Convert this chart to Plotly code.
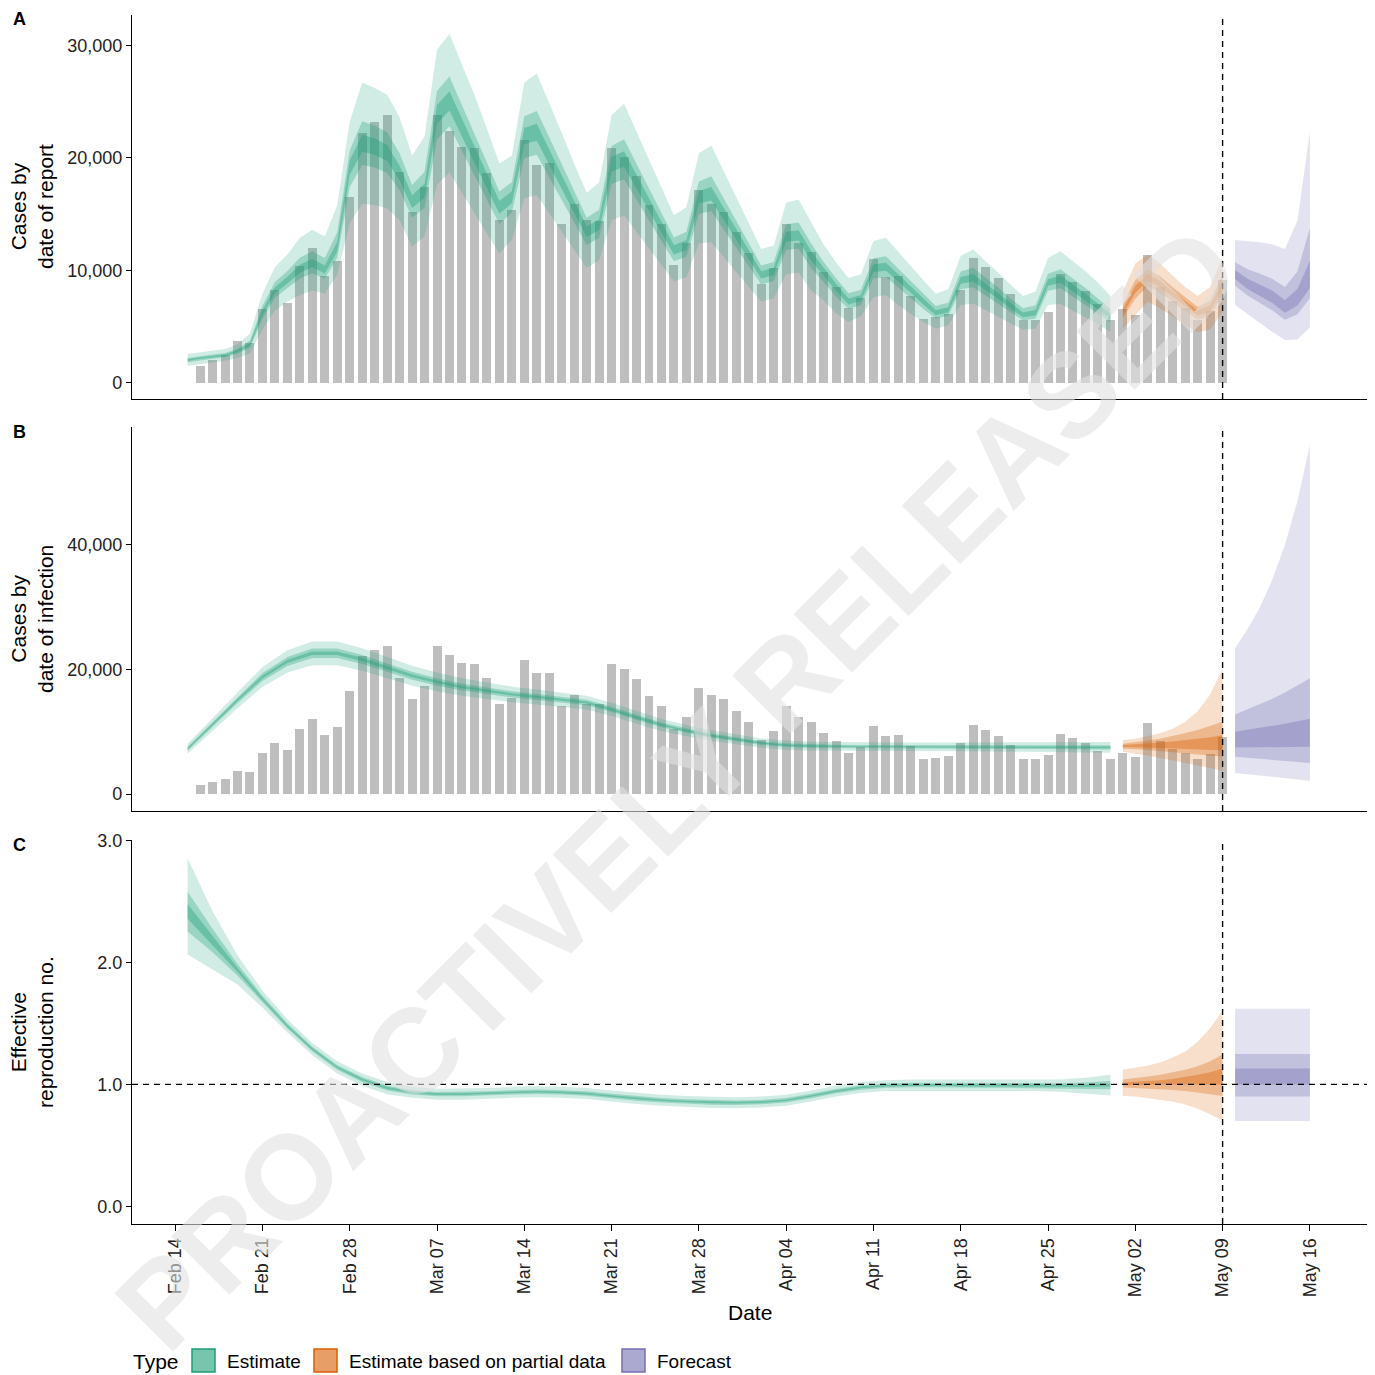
import pandas as pd
import plotly.graph_objects as go

# ---------------- data (case counts in thousands) ----------------
bar_dates = pd.date_range("2021-02-16", "2021-05-09", freq="D")
reported_k = [1.5, 2.0, 2.45, 3.7, 3.55, 6.55, 8.2, 7.1, 10.4, 12.0,
              9.5, 10.8, 16.5, 22.2, 23.2, 23.8, 18.7, 15.2, 17.4, 23.8,
              22.4, 21.0, 20.9, 18.65, 14.45, 15.4, 21.6, 19.4, 19.5, 14.1,
              15.9, 14.5, 14.4, 20.9, 20.1, 18.4, 15.8, 14.1, 10.5, 12.4,
              17.1, 15.9, 15.2, 13.4, 11.55, 8.75, 10.2, 14.1, 12.4, 11.6,
              9.85, 8.47, 6.6, 7.5, 11.0, 9.4, 9.5, 7.7, 5.65, 5.86,
              6.1, 8.2, 11.1, 10.25, 9.3, 7.85, 5.57, 5.57, 6.3, 9.7,
              8.97, 8.17, 7.0, 5.57, 6.55, 6.0, 11.4, 8.5, 7.3, 6.6,
              5.57, 6.37, 9.1]

est_dates = pd.date_range("2021-02-15", "2021-04-30", freq="D")
est_dates_2d = pd.date_range("2021-02-15", "2021-04-30", freq="2D")
partial_dates = pd.date_range("2021-05-01", "2021-05-09", freq="D")
forecast_dates = pd.date_range("2021-05-10", "2021-05-16", freq="D")
tick_dates = pd.date_range("2021-02-14", "2021-05-16", freq="7D")

# Panel A: cases by date of report (estimate, daily)
rep_est_lo90 = [1.5, 1.65, 1.8, 1.95, 2.2, 2.6, 4.7, 6.4, 7.2, 7.8, 8.2, 7.9, 9.6, 14.2, 15.9, 15.8, 15.5, 14.45, 12.1, 13.0,
                17.6, 18.7, 16.9, 15.1, 13.3, 11.5, 12.7, 16.4, 16.7, 15.1, 13.5, 11.8, 10.2, 10.9, 14.45, 14.9, 13.4, 12.0, 10.5, 9.0,
                9.4, 12.4, 12.5, 11.2, 9.9, 8.5, 7.2, 7.5, 9.65, 9.8, 8.2, 7.3, 6.2, 5.4, 5.9, 7.6, 7.8, 6.9, 6.1, 5.4,
                4.8, 5.1, 6.9, 7.05, 6.5, 5.9, 5.3, 4.7, 4.8, 6.9, 7.0, 6.4, 5.8, 5.2, 4.5]
rep_est_hi90 = [2.55, 2.7, 2.85, 3.0, 3.4, 4.4, 7.9, 10.3, 11.4, 12.9, 13.6, 13.0, 15.8, 23.2, 26.7, 26.2, 25.6, 23.6, 20.2, 21.9,
                29.6, 31.0, 28.3, 25.6, 22.6, 19.5, 20.2, 26.7, 27.5, 24.9, 22.2, 19.5, 16.9, 17.8, 23.8, 24.8, 22.3, 19.8, 17.4, 14.9,
                15.6, 20.4, 21.1, 18.8, 16.5, 14.2, 11.9, 12.2, 16.0, 16.3, 14.3, 12.3, 10.7, 9.3, 9.65, 12.6, 12.9, 11.6, 10.3, 9.1,
                7.9, 8.3, 11.3, 11.85, 10.8, 9.8, 8.7, 7.7, 8.1, 11.1, 11.7, 10.8, 9.9, 8.9, 7.7]
rep_est_lo50 = [1.82, 2.0, 2.12, 2.27, 2.58, 3.11, 5.66, 7.55, 8.42, 9.27, 9.74, 9.24, 11.14, 17.4, 19.36, 19.13, 18.64, 17.11, 14.66, 15.56,
                21.63, 22.8, 20.61, 18.43, 16.24, 14.12, 15.13, 19.98, 20.28, 18.3, 16.32, 14.23, 12.25, 12.88, 17.68, 18.1, 16.28, 14.5, 12.61, 10.79,
                11.19, 15.02, 15.25, 13.63, 12.01, 10.36, 8.74, 9.04, 11.79, 11.91, 10.18, 8.96, 7.67, 6.55, 6.92, 9.26, 9.4, 8.44, 7.51, 6.55,
                5.7, 5.96, 8.31, 8.49, 7.78, 7.05, 6.26, 5.53, 5.7, 8.18, 8.41, 7.68, 6.95, 6.16, 5.4]
rep_est_hi50 = [2.2, 2.38, 2.5, 2.65, 3.02, 3.76, 6.81, 8.96, 9.93, 11.11, 11.68, 11.08, 13.37, 20.64, 23.24, 22.87, 22.27, 20.4, 17.58, 18.76,
                25.95, 27.22, 24.72, 22.21, 19.59, 17.0, 17.83, 23.69, 24.17, 21.83, 19.45, 17.0, 14.66, 15.37, 21.05, 21.66, 19.48, 17.3, 15.1, 12.92,
                13.42, 17.9, 18.35, 16.37, 14.39, 12.41, 10.43, 10.73, 14.08, 14.25, 12.38, 10.76, 9.29, 7.96, 8.27, 11.06, 11.24, 10.13, 9.02, 7.88,
                6.81, 7.12, 9.89, 10.22, 9.33, 8.46, 7.48, 6.61, 6.88, 9.69, 10.1, 9.26, 8.43, 7.49, 6.55]
rep_est_lo20 = [1.93, 2.12, 2.23, 2.38, 2.72, 3.29, 5.99, 7.95, 8.83, 9.78, 10.26, 9.71, 11.66, 18.5, 20.54, 20.27, 19.71, 18.02, 15.54, 16.44,
                23.02, 24.2, 21.89, 19.57, 17.26, 15.03, 15.97, 21.22, 21.52, 19.4, 17.28, 15.07, 12.95, 13.57, 18.79, 19.2, 17.27, 15.35, 13.34, 11.41,
                11.81, 15.93, 16.2, 14.47, 12.74, 10.99, 9.26, 9.56, 12.53, 12.64, 10.87, 9.54, 8.18, 6.95, 7.28, 9.84, 9.95, 8.96, 7.99, 6.95,
                6.0, 6.26, 8.79, 8.99, 8.22, 7.45, 6.59, 5.82, 6.0, 8.62, 8.89, 8.12, 7.35, 6.49, 5.7]
rep_est_hi20 = [2.08, 2.27, 2.38, 2.53, 2.88, 3.54, 6.44, 8.49, 9.42, 10.49, 11.02, 10.42, 12.53, 19.76, 22.06, 21.73, 21.13, 19.3, 16.67, 17.69,
                24.7, 25.93, 23.48, 21.04, 18.56, 16.15, 17.02, 22.66, 23.03, 20.77, 18.5, 16.15, 13.89, 14.53, 20.1, 20.59, 18.52, 16.45, 14.3, 12.23,
                12.68, 17.05, 17.4, 15.53, 13.66, 11.79, 9.92, 10.22, 13.42, 13.55, 11.72, 10.24, 8.81, 7.49, 7.8, 10.54, 10.66, 9.62, 8.58, 7.47,
                6.44, 6.71, 9.41, 9.66, 8.82, 7.99, 7.07, 6.24, 6.47, 9.21, 9.55, 8.74, 7.92, 7.01, 6.15]
rep_par_lo90 = [4.8, 6.0, 7.2, 6.6, 5.9, 5.1, 4.5, 4.7, 6.3]
rep_par_hi90 = [8.1, 10.6, 11.4, 10.6, 9.5, 8.5, 7.7, 8.5, 11.2]
rep_par_lo50 = [5.76, 7.47, 8.61, 8.01, 7.18, 6.35, 5.59, 5.92, 7.84]
rep_par_hi50 = [6.95, 9.13, 10.12, 9.45, 8.48, 7.57, 6.74, 7.28, 9.6]
rep_par_lo20 = [6.09, 7.98, 9.09, 8.49, 7.62, 6.78, 5.96, 6.33, 8.36]
rep_par_hi20 = [6.55, 8.62, 9.68, 9.05, 8.12, 7.25, 6.41, 6.87, 9.05]
rep_fc_lo90 = [6.9, 6.1, 5.3, 4.5, 3.8, 3.85, 4.9]
rep_fc_hi90 = [12.7, 12.6, 12.5, 12.3, 11.9, 14.4, 22.3]
rep_fc_lo50 = [8.63, 7.76, 7.09, 6.42, 5.59, 6.09, 7.52]
rep_fc_hi50 = [10.72, 10.1, 9.68, 9.23, 8.51, 9.89, 13.79]
rep_fc_lo20 = [9.22, 8.34, 7.71, 7.08, 6.21, 6.86, 8.43]
rep_fc_hi20 = [10.03, 9.25, 8.72, 8.17, 7.34, 8.34, 10.86]

# Panel B: cases by date of infection (estimate every 2 days)
inf_est_lo90 = [6.5, 10.2, 13.8, 17.2, 19.5, 20.7, 20.7, 19.8, 18.6, 17.4, 16.5, 15.8, 15.3, 14.75, 14.4, 14.05, 13.6, 12.55, 11.3,
                10.15, 9.3, 8.55, 8.0, 7.45, 7.1, 7.0, 6.95, 6.9, 6.9, 6.9, 6.9, 6.9, 6.9, 6.85, 6.85, 6.75, 6.7, 6.65]
inf_est_hi90 = [8.1, 12.2, 16.4, 20.4, 23.1, 24.5, 24.5, 23.4, 22.0, 20.6, 19.5, 18.6, 17.9, 17.25, 16.8, 16.35, 15.8, 14.65, 13.3,
                12.05, 11.1, 10.25, 9.6, 8.95, 8.6, 8.4, 8.35, 8.3, 8.3, 8.3, 8.3, 8.3, 8.3, 8.25, 8.25, 8.25, 8.3, 8.35]
inf_est_lo50 = [6.98, 10.8, 14.58, 18.16, 20.58, 21.84, 21.84, 20.88, 19.62, 18.36, 17.4, 16.64, 16.08, 15.5, 15.12, 14.74, 14.26, 13.18, 11.9,
                10.72, 9.84, 9.06, 8.48, 7.9, 7.55, 7.42, 7.37, 7.32, 7.32, 7.32, 7.32, 7.32, 7.32, 7.27, 7.27, 7.2, 7.18, 7.16]
inf_est_hi50 = [7.62, 11.6, 15.62, 19.44, 22.02, 23.36, 23.36, 22.32, 20.98, 19.64, 18.6, 17.76, 17.12, 16.5, 16.08, 15.66, 15.14, 14.02, 12.7,
                11.48, 10.56, 9.74, 9.12, 8.5, 8.15, 7.98, 7.93, 7.88, 7.88, 7.88, 7.88, 7.88, 7.88, 7.83, 7.83, 7.8, 7.82, 7.84]
inf_est_lo20 = [7.18, 11.05, 14.9, 18.56, 21.03, 22.32, 22.32, 21.33, 20.05, 18.76, 17.78, 16.99, 16.4, 15.81, 15.42, 15.03, 14.54, 13.44, 12.15,
                10.96, 10.07, 9.27, 8.68, 8.09, 7.74, 7.6, 7.55, 7.5, 7.5, 7.5, 7.5, 7.5, 7.5, 7.45, 7.45, 7.39, 7.38, 7.37]
inf_est_hi20 = [7.42, 11.35, 15.3, 19.04, 21.57, 22.88, 22.88, 21.87, 20.55, 19.24, 18.22, 17.41, 16.8, 16.19, 15.78, 15.37, 14.87, 13.76, 12.45,
                11.24, 10.34, 9.53, 8.92, 8.31, 7.96, 7.8, 7.75, 7.7, 7.7, 7.7, 7.7, 7.7, 7.7, 7.65, 7.65, 7.61, 7.62, 7.63]
inf_par_lo90 = [6.8, 6.5, 6.2, 5.9, 5.5, 5.1, 4.6, 4.2, 3.75]
inf_par_hi90 = [8.7, 8.9, 9.3, 9.8, 10.5, 11.6, 13.3, 16.0, 20.2]
inf_par_lo50 = [7.3, 7.2, 7.1, 6.95, 6.8, 6.6, 6.4, 6.2, 6.0]
inf_par_hi50 = [8.1, 8.3, 8.6, 8.9, 9.3, 9.8, 10.3, 10.9, 11.6]
inf_par_lo20 = [7.55, 7.5, 7.45, 7.4, 7.35, 7.3, 7.2, 7.1, 7.05]
inf_par_hi20 = [7.9, 8.0, 8.15, 8.3, 8.45, 8.65, 8.9, 9.15, 9.45]
inf_fc_lo90 = [3.4, 3.2, 3.0, 2.8, 2.6, 2.35, 2.13]
inf_fc_hi90 = [23.4, 26.5, 30.0, 34.5, 40.0, 47.0, 56.0]
inf_fc_lo50 = [6.0, 5.85, 5.7, 5.5, 5.35, 5.15, 5.0]
inf_fc_hi50 = [12.8, 13.6, 14.4, 15.3, 16.3, 17.4, 18.6]
inf_fc_lo20 = [7.5, 7.5, 7.5, 7.55, 7.55, 7.6, 7.6]
inf_fc_hi20 = [10.0, 10.3, 10.6, 11.0, 11.3, 11.7, 12.1]

# Panel C: effective reproduction number (estimate every 2 days)
rt_est_lo90 = [2.065, 1.94, 1.82, 1.63, 1.425, 1.24, 1.09, 0.99, 0.92, 0.89, 0.875, 0.875, 0.88, 0.89, 0.895, 0.89, 0.88, 0.86, 0.84,
               0.825, 0.815, 0.807, 0.805, 0.81, 0.825, 0.86, 0.9, 0.93, 0.945, 0.95, 0.95, 0.95, 0.945, 0.945, 0.945, 0.94, 0.925, 0.91]
rt_est_hi90 = [2.855, 2.42, 2.06, 1.77, 1.535, 1.34, 1.19, 1.09, 1.02, 0.98, 0.965, 0.965, 0.97, 0.98, 0.985, 0.98, 0.97, 0.95, 0.93,
               0.915, 0.905, 0.897, 0.895, 0.9, 0.915, 0.95, 0.99, 1.02, 1.035, 1.04, 1.04, 1.04, 1.035, 1.035, 1.035, 1.04, 1.055, 1.08]
rt_est_lo50 = [2.255, 2.084, 1.892, 1.672, 1.458, 1.27, 1.12, 1.02, 0.95, 0.917, 0.902, 0.902, 0.907, 0.917, 0.922, 0.917, 0.907, 0.887, 0.867,
               0.852, 0.842, 0.834, 0.832, 0.837, 0.852, 0.887, 0.927, 0.957, 0.972, 0.977, 0.977, 0.977, 0.972, 0.972, 0.972, 0.97, 0.964, 0.961]
rt_est_hi50 = [2.58, 2.276, 1.988, 1.728, 1.502, 1.31, 1.16, 1.06, 0.99, 0.953, 0.938, 0.938, 0.943, 0.953, 0.958, 0.953, 0.943, 0.923, 0.903,
               0.888, 0.878, 0.87, 0.868, 0.873, 0.888, 0.923, 0.963, 0.993, 1.008, 1.013, 1.013, 1.013, 1.008, 1.008, 1.008, 1.01, 1.016, 1.029]
rt_est_lo20 = [2.36, 2.144, 1.922, 1.69, 1.472, 1.282, 1.132, 1.032, 0.962, 0.928, 0.913, 0.913, 0.918, 0.928, 0.933, 0.928, 0.918, 0.898, 0.878,
               0.863, 0.853, 0.845, 0.843, 0.848, 0.863, 0.898, 0.938, 0.968, 0.983, 0.988, 0.988, 0.988, 0.983, 0.983, 0.983, 0.983, 0.98, 0.982]
rt_est_hi20 = [2.48, 2.216, 1.958, 1.71, 1.488, 1.298, 1.148, 1.048, 0.978, 0.942, 0.927, 0.927, 0.932, 0.942, 0.947, 0.942, 0.932, 0.912, 0.892,
               0.877, 0.867, 0.859, 0.857, 0.862, 0.877, 0.912, 0.952, 0.982, 0.997, 1.002, 1.002, 1.002, 0.997, 0.997, 0.997, 0.997, 1.0, 1.008]
rt_par_lo90 = [0.905, 0.9, 0.89, 0.875, 0.86, 0.835, 0.8, 0.755, 0.70]
rt_par_hi90 = [1.12, 1.135, 1.155, 1.18, 1.22, 1.27, 1.35, 1.46, 1.61]
rt_par_lo50 = [0.975, 0.97, 0.965, 0.96, 0.955, 0.945, 0.935, 0.92, 0.905]
rt_par_hi50 = [1.04, 1.05, 1.065, 1.08, 1.1, 1.12, 1.15, 1.19, 1.245]
rt_par_lo20 = [0.995, 0.995, 0.995, 0.995, 0.995, 0.995, 1.0, 1.0, 1.0]
rt_par_hi20 = [1.015, 1.02, 1.025, 1.035, 1.045, 1.06, 1.08, 1.1, 1.13]
rt_fc_lo90 = [0.70, 0.70, 0.70, 0.70, 0.70, 0.70, 0.70]
rt_fc_hi90 = [1.62, 1.62, 1.62, 1.62, 1.62, 1.62, 1.62]
rt_fc_lo50 = [0.90, 0.90, 0.90, 0.90, 0.90, 0.90, 0.90]
rt_fc_hi50 = [1.25, 1.25, 1.25, 1.25, 1.25, 1.25, 1.25]
rt_fc_lo20 = [1.0, 1.0, 1.0, 1.0, 1.0, 1.0, 1.0]
rt_fc_hi20 = [1.13, 1.13, 1.13, 1.13, 1.13, 1.13, 1.13]

type_names = ["Estimate", "Estimate based on partial data", "Forecast"]
y_titles = ["Cases by<br>date of report", "Cases by<br>date of infection", "Effective<br>reproduction no."]
panel_letters = ["A", "B", "C"]

# ---------------- styling ----------------
# the page body has an 8px margin; the figure is sized so the plot lands where the reference has it
OFF = 8
W = H = 1367
PL, PR, PT, PB = 132, 1367, 15, 1224          # plot area in screen pixels
ML, MT = PL - OFF, PT - OFF
MR = W - (PR - OFF)
MB = H - (PB - OFF)
PW, PH = PR - PL, PB - PT
FONT = "Liberation Sans, Arial, sans-serif"
RGB = {"Estimate": (27, 158, 119), "Estimate based on partial data": (217, 95, 2), "Forecast": (117, 112, 179)}
ALPHAS = [0.2, 0.3, 0.38]
BAR_COL = "#bebebe"


def px_x(px):
    return (px - PL) / PW


def px_y(py):
    return 1 - (py - PT) / PH


def rgba(rgb, a):
    return "rgba(%d,%d,%d,%.3f)" % (rgb[0], rgb[1], rgb[2], a)


fig = go.Figure()


def add_band(dates, lo, hi, scale, color, alpha, xa, ya):
    d = list(dates)
    fig.add_trace(go.Scatter(
        x=d + d[::-1], y=[v * scale for v in hi] + [v * scale for v in lo][::-1],
        fill="toself", fillcolor=rgba(color, alpha), mode="lines", line=dict(width=0),
        hoverinfo="skip", showlegend=False, xaxis=xa, yaxis=ya))


def add_group(dates, bands, scale, tname, xa, ya):
    for (lo, hi), a in zip(bands, ALPHAS):
        add_band(dates, lo, hi, scale, RGB[tname], a, xa, ya)


K = 1000
for xa, ya in [("x", "y"), ("x2", "y2")]:
    fig.add_trace(go.Bar(x=bar_dates, y=[v * K for v in reported_k], width=0.72 * 86400000,
                         marker=dict(color=BAR_COL, line=dict(width=0)), hoverinfo="skip",
                         showlegend=False, xaxis=xa, yaxis=ya))

add_group(est_dates, [(rep_est_lo90, rep_est_hi90), (rep_est_lo50, rep_est_hi50), (rep_est_lo20, rep_est_hi20)], K, "Estimate", "x", "y")
add_group(partial_dates, [(rep_par_lo90, rep_par_hi90), (rep_par_lo50, rep_par_hi50), (rep_par_lo20, rep_par_hi20)], K, "Estimate based on partial data", "x", "y")
add_group(forecast_dates, [(rep_fc_lo90, rep_fc_hi90), (rep_fc_lo50, rep_fc_hi50), (rep_fc_lo20, rep_fc_hi20)], K, "Forecast", "x", "y")

add_group(est_dates_2d, [(inf_est_lo90, inf_est_hi90), (inf_est_lo50, inf_est_hi50), (inf_est_lo20, inf_est_hi20)], K, "Estimate", "x2", "y2")
add_group(partial_dates, [(inf_par_lo90, inf_par_hi90), (inf_par_lo50, inf_par_hi50), (inf_par_lo20, inf_par_hi20)], K, "Estimate based on partial data", "x2", "y2")
add_group(forecast_dates, [(inf_fc_lo90, inf_fc_hi90), (inf_fc_lo50, inf_fc_hi50), (inf_fc_lo20, inf_fc_hi20)], K, "Forecast", "x2", "y2")

add_group(est_dates_2d, [(rt_est_lo90, rt_est_hi90), (rt_est_lo50, rt_est_hi50), (rt_est_lo20, rt_est_hi20)], 1, "Estimate", "x3", "y3")
add_group(partial_dates, [(rt_par_lo90, rt_par_hi90), (rt_par_lo50, rt_par_hi50), (rt_par_lo20, rt_par_hi20)], 1, "Estimate based on partial data", "x3", "y3")
add_group(forecast_dates, [(rt_fc_lo90, rt_fc_hi90), (rt_fc_lo50, rt_fc_hi50), (rt_fc_lo20, rt_fc_hi20)], 1, "Forecast", "x3", "y3")

# ---------------- axes ----------------
x0 = pd.Timestamp("2021-02-14") - pd.Timedelta(days=3.46)
x1 = pd.Timestamp("2021-02-14") + pd.Timedelta(days=95.58)
xr = [x0.strftime("%Y-%m-%d %H:%M:%S"), x1.strftime("%Y-%m-%d %H:%M:%S")]

domA = [px_y(399), px_y(15)]
domB = [px_y(811), px_y(427)]
domC = [px_y(1224), px_y(840)]

axis_line = dict(showline=True, linecolor="#000000", linewidth=1.2, showgrid=False, zeroline=False)
tickfont = dict(family=FONT, size=18, color="#222222")

layout_axes = dict(
    xaxis=dict(domain=[0, 1], anchor="y", range=xr, type="date", showticklabels=False, ticks="", **axis_line),
    xaxis2=dict(domain=[0, 1], anchor="y2", range=xr, type="date", showticklabels=False, ticks="", **axis_line),
    xaxis3=dict(domain=[0, 1], anchor="y3", range=xr, type="date", tickmode="array", tickvals=list(tick_dates),
                tickformat="%b %d", tickangle=-90, ticks="outside", ticklen=6, tickcolor="#000000",
                tickfont=tickfont, **axis_line),
    yaxis=dict(domain=domA, anchor="x", range=[-1450, 32700], tickvals=[0, 10000, 20000, 30000],
               tickformat=",.0f", ticks="outside", ticklen=5, tickcolor="#000000", tickfont=tickfont, **axis_line),
    yaxis2=dict(domain=domB, anchor="x2", range=[-2700, 58900], tickvals=[0, 20000, 40000],
                tickformat=",.0f", ticks="outside", ticklen=5, tickcolor="#000000", tickfont=tickfont, **axis_line),
    yaxis3=dict(domain=domC, anchor="x3", range=[-0.145, 3.005], tickvals=[0, 1, 2, 3],
                tickformat=".1f", ticks="outside", ticklen=5, tickcolor="#000000", tickfont=tickfont, **axis_line),
)

# ---------------- reference lines ----------------
shapes = []
for xa, ya in [("x", "y"), ("x2", "y2"), ("x3", "y3")]:
    shapes.append(dict(type="line", xref=xa, yref=ya + " domain", x0="2021-05-09", x1="2021-05-09", y0=0, y1=1,
                       line=dict(color="#000000", width=1.4, dash="6px,5px")))
shapes.append(dict(type="line", xref="x3 domain", yref="y3", x0=0, x1=1, y0=1, y1=1,
                   line=dict(color="#000000", width=1.4, dash="6px,5px")))

# ---------------- annotations ----------------
ann = []
for letter, py in zip(panel_letters, [19, 432, 845]):
    ann.append(dict(text="<b>%s</b>" % letter, xref="paper", yref="paper", x=px_x(11), y=px_y(py),
                    xanchor="left", yanchor="middle", showarrow=False, font=dict(family=FONT, size=18, color="#000000")))
for t, dom in zip(y_titles, [domA, domB, domC]):
    ann.append(dict(text=t, xref="paper", yref="paper", x=px_x(32), y=(dom[0] + dom[1]) / 2, textangle=-90,
                    xanchor="center", yanchor="middle", showarrow=False,
                    font=dict(family=FONT, size=21, color="#000000")))
ann.append(dict(text="Date", xref="paper", yref="paper", x=px_x(750), y=px_y(1312), xanchor="center", yanchor="middle",
                showarrow=False, font=dict(family=FONT, size=21, color="#000000")))

# legend (drawn manually)
ann.append(dict(text="Type", xref="paper", yref="paper", x=px_x(131), y=px_y(1361), xanchor="left", yanchor="middle",
                showarrow=False, font=dict(family=FONT, size=21, color="#000000")))
key_left = [192, 314, 622]
for name, kx in zip(type_names, key_left):
    c = RGB[name]
    shapes.append(dict(type="rect", xref="paper", yref="paper", x0=px_x(kx), x1=px_x(kx + 23),
                       y0=px_y(1372), y1=px_y(1349), fillcolor=rgba(c, 0.6), line=dict(color=rgba(c, 1), width=1.5)))
    ann.append(dict(text=name, xref="paper", yref="paper", x=px_x(kx + 33), y=px_y(1361), xanchor="left", yanchor="middle",
                    showarrow=False, font=dict(family=FONT, size=19, color="#000000")))

# watermark
ann.append(dict(text="PROACTIVELY RELEASED", xref="paper", yref="paper", x=px_x(677), y=px_y(788), textangle=-45,
                xanchor="center", yanchor="middle", showarrow=False,
                font=dict(family=FONT, size=120, color="rgba(225,225,225,0.6)", weight="bold")))

fig.update_layout(
    width=W, height=H, margin=dict(l=ML, r=MR, t=MT, b=MB, autoexpand=False),
    paper_bgcolor="white", plot_bgcolor="white", showlegend=False, bargap=0,
    shapes=shapes, annotations=ann, font=dict(family=FONT), **layout_axes)

fig.write_html("out.html")
